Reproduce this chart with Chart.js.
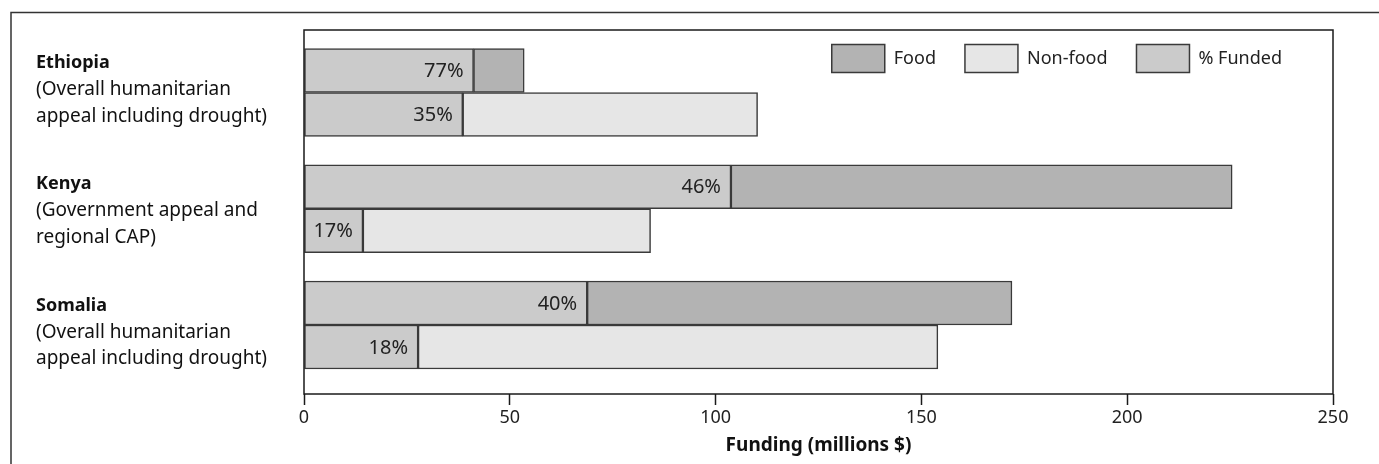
<!DOCTYPE html>
<html>
<head>
<meta charset="utf-8">
<script src="https://cdn.jsdelivr.net/npm/chart.js@4.4.1/dist/chart.umd.min.js"></script>
<style>
  html, body { margin: 0; padding: 0; background: #ffffff; }
  #wrap { width: 1379px; height: 464px; position: relative; }
</style>
</head>
<body>
<div id="wrap"><canvas id="chart" width="1379" height="464"></canvas></div>
<script>
// Humanitarian appeals: amount requested (millions $) and share funded (%)
const categories = ['Ethiopia', 'Kenya', 'Somalia'];
const appealNotes = [
  ['(Overall humanitarian', 'appeal including drought)'],
  ['(Government appeal and', 'regional CAP)'],
  ['(Overall humanitarian', 'appeal including drought)']
];
const foodRequested = [53.5, 225.5, 172];
const nonFoodRequested = [110.2, 84.2, 154];
const foodPctFunded = [77, 46, 40];
const nonFoodPctFunded = [35, 17, 18];
const xTickValues = [0, 50, 100, 150, 200, 250];
const legendNames = ['Food', 'Non-food', '% Funded'];

const FONT = '"Noto Sans", "Open Sans", sans-serif';
const COL_FOOD = '#b3b3b3';
const COL_NONFOOD = '#e6e6e6';
const COL_FUNDED = '#cbcbcb';
const COL_EDGE = '#3a3a3a';

// funded part of each bar comes from its stated percentage
const foodFunded = foodRequested.map((v, i) => v * foodPctFunded[i] / 100);
const foodRest = foodRequested.map((v, i) => v - foodFunded[i]);
const nonFoodFunded = nonFoodRequested.map((v, i) => v * nonFoodPctFunded[i] / 100);
const nonFoodRest = nonFoodRequested.map((v, i) => v - nonFoodFunded[i]);

const pts = arr => arr.map((v, i) => ({ x: v, y: i }));

const barStyle = {
  borderColor: COL_EDGE,
  borderWidth: 1.5,
  borderSkipped: false,
  barThickness: 44
};

const datasets = [
  Object.assign({ label: '% Funded (food)', stack: 'food', data: pts(foodFunded),
    backgroundColor: COL_FUNDED, pct: foodPctFunded }, barStyle),
  Object.assign({ label: 'Food', stack: 'food', data: pts(foodRest),
    backgroundColor: COL_FOOD }, barStyle),
  Object.assign({ label: '% Funded (non-food)', stack: 'nonfood', data: pts(nonFoodFunded),
    backgroundColor: COL_FUNDED, pct: nonFoodPctFunded }, barStyle),
  Object.assign({ label: 'Non-food', stack: 'nonfood', data: pts(nonFoodRest),
    backgroundColor: COL_NONFOOD }, barStyle)
];

// outer panel line and the plot frame
const framePlugin = {
  id: 'frames',
  beforeDraw(chart) {
    const ctx = chart.ctx;
    ctx.save();
    ctx.strokeStyle = '#333';
    ctx.lineWidth = 1.5;
    ctx.strokeRect(11, 12.5, 2000, 1000);
    ctx.restore();
  },
  afterDatasetsDraw(chart) {
    const { ctx, chartArea: a } = chart;
    ctx.save();
    ctx.strokeStyle = '#1a1a1a';
    ctx.lineWidth = 1.5;
    ctx.strokeRect(a.left, a.top, a.right - a.left, a.bottom - a.top);
    ctx.restore();
  }
};

// percentage text at the end of each funded segment
const pctLabelPlugin = {
  id: 'pctLabels',
  afterDatasetsDraw(chart) {
    const ctx = chart.ctx;
    ctx.save();
    ctx.font = '20px ' + FONT;
    ctx.fillStyle = '#222';
    ctx.textAlign = 'right';
    ctx.textBaseline = 'middle';
    chart.data.datasets.forEach((ds, di) => {
      if (!ds.pct) return;
      chart.getDatasetMeta(di).data.forEach((bar, i) => {
        ctx.fillText(ds.pct[i] + '%', bar.x - 10, bar.y + 1);
      });
    });
    ctx.restore();
  }
};

// country names with appeal description, left of the plot
const categoryLabelPlugin = {
  id: 'categoryLabels',
  afterDraw(chart) {
    const { ctx, chartArea: a } = chart;
    const band = (a.bottom - a.top) / categories.length;
    const lh = 26.7;
    ctx.save();
    ctx.fillStyle = '#111';
    ctx.textAlign = 'left';
    ctx.textBaseline = 'middle';
    categories.forEach((name, i) => {
      const lines = [name].concat(appealNotes[i]);
      const cy = a.top + (i + 0.5) * band - 1;
      const y0 = cy - lh * (lines.length - 1) / 2;
      lines.forEach((t, k) => {
        ctx.font = (k === 0 ? 'bold 18px ' : '19px ') + FONT;
        ctx.fillText(t, 36, y0 + k * lh);
      });
    });
    ctx.restore();
  }
};

// legend boxes inside the top right corner of the plot
const legendPlugin = {
  id: 'boxLegend',
  afterDraw(chart) {
    const { ctx, chartArea: a } = chart;
    const colors = [COL_FOOD, COL_NONFOOD, COL_FUNDED];
    const bw = 53, bh = 28, gap = 9, spacing = 29;
    ctx.save();
    ctx.font = '18px ' + FONT;
    const widths = legendNames.map(t => ctx.measureText(t).width);
    const total = widths.reduce((s, w) => s + bw + gap + w, 0) + spacing * (legendNames.length - 1);
    let x = a.right - 51 - total;
    const top = a.top + 14.5;
    legendNames.forEach((t, i) => {
      ctx.fillStyle = colors[i];
      ctx.fillRect(x, top, bw, bh);
      ctx.strokeStyle = COL_EDGE;
      ctx.lineWidth = 1.5;
      ctx.strokeRect(x, top, bw, bh);
      ctx.fillStyle = '#222';
      ctx.textAlign = 'left';
      ctx.textBaseline = 'middle';
      ctx.fillText(t, x + bw + gap, top + bh / 2);
      x += bw + gap + widths[i] + spacing;
    });
    ctx.restore();
  }
};

new Chart(document.getElementById('chart'), {
  type: 'bar',
  data: { datasets },
  options: {
    indexAxis: 'y',
    responsive: false,
    animation: false,
    layout: { padding: { left: 304, top: 30, right: 46, bottom: 0 } },
    plugins: { legend: { display: false }, tooltip: { enabled: false } },
    scales: {
      x: {
        type: 'linear',
        min: 0,
        max: 250,
        stacked: true,
        afterBuildTicks: s => { s.ticks = xTickValues.map(v => ({ value: v })); },
        afterFit: s => { s.height = 70; },
        border: { display: false },
        grid: { drawOnChartArea: false, drawTicks: true, tickLength: 11, tickWidth: 1.5, tickColor: '#1a1a1a' },
        ticks: { font: { family: FONT, size: 18 }, color: '#222', padding: 2, maxRotation: 0 },
        title: {
          display: true,
          text: 'Funding (millions $)',
          font: { family: FONT, size: 19, weight: 'bold' },
          color: '#111',
          padding: { top: 0, bottom: 7 }
        }
      },
      y: {
        type: 'linear',
        reverse: true,
        offset: false,
        min: -0.5376,
        max: 2.594,
        display: false
      }
    }
  },
  plugins: [framePlugin, pctLabelPlugin, categoryLabelPlugin, legendPlugin]
});
</script>
</body>
</html>
